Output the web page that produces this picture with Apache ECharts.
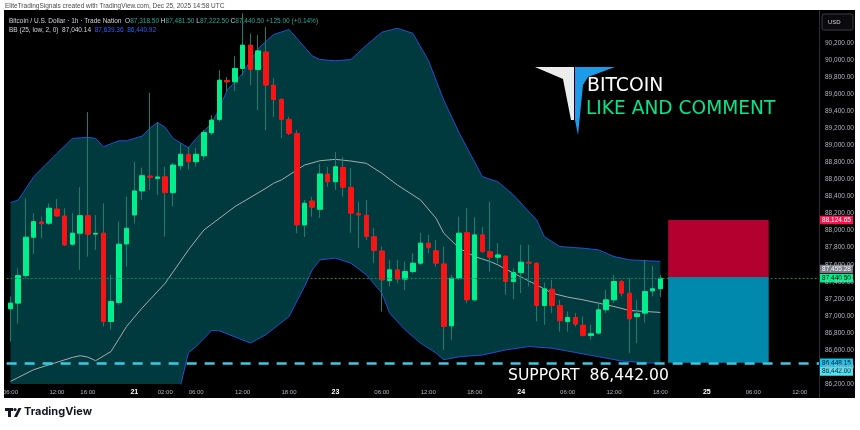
<!DOCTYPE html>
<html>
<head>
<meta charset="utf-8">
<script src="https://cdn.jsdelivr.net/npm/echarts@6/dist/echarts.min.js"></script>
<style>
  html, body { margin: 0; padding: 0; background: #fff; }
  #chart { width: 860px; height: 430px; }
</style>
</head>
<body>
<div id="chart"></div>
<script>
// hourly candles, BTC/USD (Trade Nation)
const opens  = [87083,87149,87473,87923,88102,88087,88254,88172,87841,87970,88176,87960,87970,86934,87156,87844,88184,88466,88641,88614,88633,88446,88762,88896,88809,88879,89149,89306,89763,89746,89904,90177,89892,90098,89708,89540,89306,89142,88067,88348,88251,88665,88574,88743,88509,88204,88181,87930,87762,87414,87540,87431,87520,87618,87853,87766,87610,86883,87442,87977,87188,87950,87754,87688,87700,87403,87508,87630,87618,87121,87313,87121,86934,86981,86891,86770,86798,87071,87188,87403,87266,86992,87032,87293,87318.5];
const highs  = [87227,87560,88380,88204,88164,88321,88372,88263,88204,88509,89391,88184,88321,87481,88106,88399,88809,88740,89618,89274,88750,88797,89025,88985,88970,89180,89356,89884,89805,90048,90550,90314,90294,90391,89790,89555,89336,89180,88360,88399,88782,88750,88923,88867,88735,88340,88360,88032,87813,87657,87657,87637,87735,87973,87950,87891,87813,87481,88164,88263,88157,88040,88340,87853,87708,87560,87833,87833,87630,87391,87422,87188,87051,87032,86992,86895,87168,87305,87481,87422,87442,87188,87657,87587,87481.5];
const lows   = [86699,86907,87440,87727,87911,88067,88164,87820,87824,87540,87696,87774,86875,86836,87129,87578,88087,88360,88477,88419,87930,88282,88712,88720,88750,88829,89122,89278,89629,89638,89825,89708,89415,89180,89336,89087,89122,87970,87926,88164,88149,88516,88477,88399,87973,87797,87891,87622,87051,87344,87384,87305,87500,87598,87735,87578,86602,86719,87422,87149,87168,87735,87520,87618,87247,87196,87267,87344,86934,86895,87032,86816,86816,86875,86758,86719,86778,87032,87149,87227,86563,86680,86922,87227,87222.5];
const closes = [87149,87473,87923,88106,88082,88263,88172,87833,87970,88176,87958,87968,86934,87168,87841,88028,88466,88645,88626,88630,88446,88770,88896,88809,88896,89153,89298,89766,89746,89904,90177,89892,90110,89708,89540,89306,89142,88067,88321,88275,88665,88574,88750,88509,88204,88184,87930,87766,87422,87540,87431,87520,87618,87853,87801,87618,86875,87442,87970,87188,87950,87754,87688,87715,87403,87508,87630,87618,87121,87317,87121,86942,86981,86903,86770,86790,87071,87188,87403,87266,86965,87024,87285,87318,87440.5];

// Bollinger Bands (25, low, 2, 0) as [bar index, price]
const bbUpper = [[0,88328],[1,88360],[3,88633],[6,88907],[8,89083],[10,89095],[11,89083],[12,88985],[14,89055],[15,89055],[17,89110],[18,89200],[19,89271],[20,89212],[21,89083],[23,88973],[24,89083],[26,89259],[27,89435],[28,89649],[30,89845],[32,90138],[34,90302],[36,90361],[37,90259],[39,90051],[40,90009],[42,89993],[44,90009],[46,90177],[48,90329],[50,90376],[52,90317],[54,90000],[56,89532],[58,89145],[61,88633],[63,88574],[65,88419],[68,88126],[69,87930],[71,87813],[74,87794],[76,87774],[78,87696],[80,87657],[84,87639.36]];
const bbBasis = [[0,86231],[3,86368],[8,86512],[9,86532],[10,86516],[11,86473],[13,86582],[15,86875],[17,87091],[20,87384],[23,87774],[25,88008],[29,88282],[33,88497],[34,88556],[35,88594],[38,88770],[40,88821],[42,88837],[44,88817],[46,88790],[48,88673],[50,88536],[53,88360],[55,88146],[56,87970],[58,87794],[60,87696],[62,87637],[63,87598],[65,87501],[68,87364],[70,87266],[72,87220],[74,87188],[76,87149],[78,87110],[80,87063],[84,87040.14]];
const bbLower = [[20,85600],[21,85950],[22,86190],[23,86567],[24,86641],[26,86828],[27,86825],[31,86680],[33,86778],[36,86992],[38,87344],[39,87540],[40,87657],[42,87677],[44,87618],[46,87481],[48,87267],[49,87032],[51,86836],[53,86680],[55,86563],[56,86485],[58,86520],[61,86540],[64,86600],[67,86640],[70,86620],[73,86570],[76,86520],[79,86470],[82,86450],[84,86440.92]];

// time axis ticks
const barCount = 105;
const xTickIdx  = [0,6,10,16,20,24,30,36,42,48,54,60,66,72,78,84,90,96,102];
const xTickText = ['06:00','12:00','16:00','21','02:00','06:00','12:00','18:00','23','06:00','12:00','18:00','24','06:00','12:00','18:00','25','06:00','12:00'];
const dayTicks  = ['21','23','24','25'];

// short position tool: [from bar, to bar, top price, bottom price]
const stopZone   = [85, 98, 88124.65, 87455.28];
const targetZone = [85, 98, 87455.28, 86448.15];
const lastPrice = 87440.50;
const supportPrice = 86448.15;
const tagValues = [88124.65, 87455.28, 87440.50, 86448.15, 86442.00];

const upColor = '#00ef8d', downColor = '#f71414', wickColor = '#15806f';

const fmt = v => v.toLocaleString('en-US', {minimumFractionDigits: 2, maximumFractionDigits: 2});

const cats = Array.from({length: barCount}, (_, i) => 'b' + i);
const wicks = opens.map((o, i) => [o, closes[i], lows[i], highs[i]]);
const bodies = opens.map((o, i) => [o, closes[i], Math.min(o, closes[i]), Math.max(o, closes[i])]);

const chart = echarts.init(document.getElementById('chart'));

const zoneSeries = (zone, color) => ({
  type: 'custom',
  z: 2,
  silent: true,
  data: [zone],
  renderItem: (params, api) => {
    const p0 = api.coord([api.value(0), api.value(2)]);
    const p1 = api.coord([api.value(1), api.value(3)]);
    return {
      type: 'rect',
      shape: {x: p0[0], y: p0[1], width: p1[0] - p0[0], height: p1[1] - p0[1]},
      style: {fill: color}
    };
  }
});

const options = {
  backgroundColor: '#000',
  animation: false,
  textStyle: {fontFamily: 'Liberation Sans, Arial, sans-serif'},
  grid: {left: 5, right: 41, top: 10, bottom: 46, containLabel: false},
  xAxis: {
    type: 'category',
    data: cats,
    boundaryGap: true,
    axisLine: {show: false},
    axisTick: {show: false},
    splitLine: {show: false},
    axisLabel: {
      interval: 0,
      margin: 5,
      fontSize: 6,
      color: '#b2b5be',
      formatter: (val, i) => {
        const k = xTickIdx.indexOf(i);
        if (k < 0) return '';
        const t = xTickText[k];
        return dayTicks.includes(t) ? '{d|' + t + '}' : t;
      },
      rich: {d: {fontSize: 7, fontWeight: 'bold', color: '#ffffff'}}
    }
  },
  yAxis: {
    type: 'value',
    position: 'right',
    min: 86200,
    max: 90590,
    interval: 200,
    axisLine: {show: false},
    axisTick: {show: false},
    splitLine: {show: false},
    axisLabel: {
      margin: 6,
      fontSize: 6.5,
      color: '#b2b5be',
      showMaxLabel: false,
      formatter: v => v > 90200 ? '' : fmt(v)
    }
  },
  series: [
    {
      name: 'upper', type: 'line', z: 1, data: bbUpper, symbol: 'none', silent: true,
      lineStyle: {color: '#2250d4', width: 1},
      areaStyle: {color: '#003a3e', opacity: 1, origin: 'start'}
    },
    {
      name: 'lower', type: 'line', z: 1, data: bbLower, symbol: 'none', silent: true,
      lineStyle: {color: '#2250d4', width: 1},
      areaStyle: {color: '#000000', opacity: 1, origin: 'start'}
    },
    {
      name: 'basis', type: 'line', z: 2, data: bbBasis, symbol: 'none', silent: true,
      lineStyle: {color: '#a8acaf', width: 1}
    },
    zoneSeries(stopZone, '#b3002e'),
    zoneSeries(targetZone, '#0089ad'),
    {
      name: 'wicks', type: 'candlestick', z: 3, data: wicks, barWidth: 2, silent: true,
      itemStyle: {color: wickColor, color0: wickColor, borderColor: wickColor, borderColor0: wickColor, borderWidth: 1}
    },
    {
      name: 'bodies', type: 'candlestick', z: 4, data: bodies, barWidth: 5, silent: true,
      itemStyle: {color: upColor, color0: downColor, borderColor: upColor, borderColor0: downColor, borderWidth: 1},
      markLine: {
        silent: true,
        symbol: 'none',
        label: {show: false},
        data: [
          {yAxis: lastPrice, lineStyle: {color: '#0c8a50', width: 1, type: [2, 2]}},
          {yAxis: supportPrice, lineStyle: {color: '#3cc9e4', width: 2.5, type: [10, 8]}}
        ]
      }
    }
  ]
};
chart.setOption(options);

// price tags on the right scale, placed through the y axis scale
const tagStyle = [
  {bg: '#f5154c', fg: '#ffffff', dy: 0},
  {bg: '#787b86', fg: '#ffffff', dy: -8},
  {bg: '#00ef8a', fg: '#000000', dy: 0},
  {bg: '#1cc3ef', fg: '#0b1a22', dy: 0},
  {bg: '#52e2f2', fg: '#0b1a22', dy: 8}
];
const tags = tagValues.map((v, i) => {
  const y = chart.convertToPixel({yAxisIndex: 0}, v) + tagStyle[i].dy;
  return {
    type: 'group', z: 50,
    children: [
      {type: 'rect', shape: {x: 820, y: y - 4.3, width: 33, height: 8.6}, style: {fill: tagStyle[i].bg}},
      {type: 'text', x: 836.5, y: y, style: {text: fmt(v), fill: tagStyle[i].fg, fontSize: 6.5, align: 'center', verticalAlign: 'middle', fontFamily: 'Liberation Sans'}}
    ]
  };
});

const legendText =
  '{w|Bitcoin / U.S. Dollar · 1h · Trade Nation}  {w|O}{g|87,318.50} {w|H}{g|87,481.50} {w|L}{g|87,222.50} {w|C}{g|87,440.50} {g|+125.00 (+0.14%)}';
const bbText = '{w|BB (25, low, 2, 0)}  {w|87,040.14}  {b|87,639.36}  {b|86,440.92}';

chart.setOption({
  graphic: [
    // white page around the dark panel
    {type: 'rect', z: 40, shape: {x: 0, y: 0, width: 860, height: 10}, style: {fill: '#ffffff'}},
    {type: 'rect', z: 40, shape: {x: 0, y: 398, width: 860, height: 32}, style: {fill: '#ffffff'}},
    {type: 'rect', z: 40, shape: {x: 0, y: 0, width: 4, height: 430}, style: {fill: '#ffffff'}},
    {type: 'rect', z: 40, shape: {x: 855, y: 0, width: 5, height: 430}, style: {fill: '#ffffff'}},
    {type: 'line', z: 41, shape: {x1: 819.5, y1: 10, x2: 819.5, y2: 398}, style: {stroke: '#2a2e39', lineWidth: 1}},
    {type: 'text', z: 41, x: 5, y: 3, style: {text: 'EliteTradingSignals created with TradingView.com, Dec 25, 2025 14:58 UTC', fill: '#4a4a4a', fontSize: 6.5, fontFamily: 'Liberation Sans'}},
    {type: 'text', z: 41, x: 9, y: 18, style: {text: legendText, fontSize: 6.5, fontFamily: 'Liberation Sans',
      rich: {w: {fill: '#d1d4dc', fontSize: 6.5}, g: {fill: '#22ab94', fontSize: 6.5}}}},
    {type: 'text', z: 41, x: 9, y: 27, style: {text: bbText, fontSize: 6.5, fontFamily: 'Liberation Sans',
      rich: {w: {fill: '#d1d4dc', fontSize: 6.5}, b: {fill: '#2962ff', fontSize: 6.5}}}},
    // USD box
    {type: 'rect', z: 41, shape: {x: 822, y: 14, width: 31, height: 16, r: 2}, style: {fill: '#0b0b0d', stroke: '#3a3d46', lineWidth: 1}},
    {type: 'text', z: 42, x: 828, y: 19, style: {text: 'USD', fill: '#d1d4dc', fontSize: 6, fontFamily: 'Liberation Sans'}},
    // logo
    {type: 'polygon', z: 41, shape: {points: [[535, 67], [574, 67], [574, 120], [571, 120], [563, 79]]}, style: {fill: '#ededed'}},
    {type: 'polygon', z: 41, shape: {points: [[575, 67], [615, 67], [588, 77], [583, 85], [578, 135], [575, 120]]}, style: {fill: '#1e9be6'}},
    {type: 'text', z: 41, x: 587, y: 86.5, style: {text: 'BITCOIN', fill: '#ffffff', fontSize: 18.8, fontFamily: 'DejaVu Sans', verticalAlign: 'middle'}},
    {type: 'text', z: 41, x: 586, y: 109.5, style: {text: 'LIKE AND COMMENT', fill: '#00e68c', fontSize: 18.6, fontFamily: 'DejaVu Sans', verticalAlign: 'middle'}},
    // support caption
    {type: 'text', z: 41, x: 508, y: 376, style: {text: 'SUPPORT  86,442.00', fill: '#ffffff', fontSize: 15.6, fontFamily: 'DejaVu Sans', verticalAlign: 'middle'}},
    // footer brand
    {type: 'rect', z: 41, shape: {x: 5, y: 408, width: 8, height: 3}, style: {fill: '#131722'}},
    {type: 'rect', z: 41, shape: {x: 8, y: 408, width: 3, height: 9}, style: {fill: '#131722'}},
    {type: 'circle', z: 41, shape: {cx: 15, cy: 409.5, r: 1.6}, style: {fill: '#131722'}},
    {type: 'polygon', z: 41, shape: {points: [[14, 417], [18.5, 408], [21.5, 408], [17, 417]]}, style: {fill: '#131722'}},
    {type: 'text', z: 41, x: 24, y: 406, style: {text: 'TradingView', fill: '#131722', fontSize: 11, fontWeight: 'bold', fontFamily: 'Inter'}}
  ].concat(tags)
});
</script>
</body>
</html>
